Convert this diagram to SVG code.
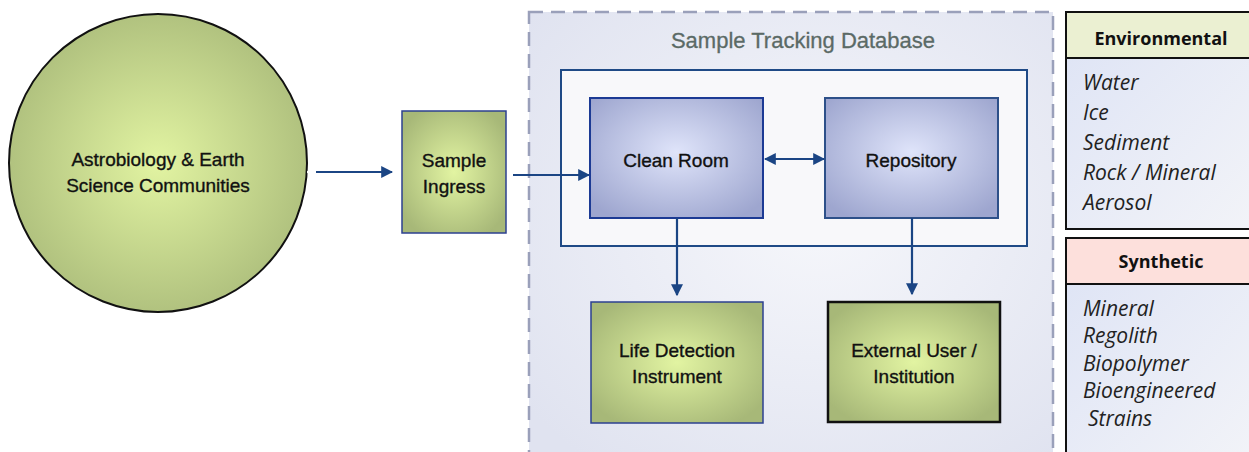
<svg xmlns="http://www.w3.org/2000/svg" width="1249" height="452" viewBox="0 0 1249 452">
<defs>
<radialGradient id="gGreen" cx="50%" cy="50%" r="60%">
<stop offset="0" stop-color="#e2f4a2"/>
<stop offset="1" stop-color="#a7b878"/>
</radialGradient>
<radialGradient id="gBlue" cx="50%" cy="45%" r="65%">
<stop offset="0" stop-color="#dfe4fa"/>
<stop offset="1" stop-color="#9ea6cf"/>
</radialGradient>
<radialGradient id="gLav" cx="55%" cy="45%" r="70%">
<stop offset="0" stop-color="#f6f7fb"/>
<stop offset="1" stop-color="#e0e3f0"/>
</radialGradient>
<linearGradient id="gPanel" x1="0" y1="0" x2="1" y2="1">
<stop offset="0" stop-color="#dde3f5"/>
<stop offset="1" stop-color="#f3f4f8"/>
</linearGradient>
<marker id="ah" viewBox="0 0 10 10" refX="9" refY="5" markerWidth="12" markerHeight="12" markerUnits="userSpaceOnUse" orient="auto-start-reverse">
<path d="M0,0 L10,5 L0,10 z" fill="#1b4584"/>
</marker>
</defs>
<style>
.lbl{font-family:"Liberation Sans",Arial,sans-serif;font-size:19px;fill:#111;stroke:#111;stroke-width:0.35;text-anchor:middle}
.con{stroke:#1b4584;stroke-width:2.2;fill:none}
.it{font-family:"Open Sans","Liberation Sans",sans-serif;font-style:italic;font-size:21px;fill:#222}
.hdr{font-family:"Open Sans","Liberation Sans",sans-serif;font-weight:bold;font-size:18px;fill:#111;text-anchor:middle}
</style>
<rect width="1249" height="452" fill="#ffffff"/>

<g id="database">
<rect x="529" y="12" width="524" height="450" fill="url(#gLav)" stroke="#9aa0ba" stroke-width="2.5" stroke-dasharray="14,8"/>
<text x="803" y="48" style="font-family:'Liberation Sans',Arial,sans-serif;font-size:22px;fill:#5b6a66;stroke:#5b6a66;stroke-width:0.3;text-anchor:middle">Sample Tracking Database</text>
<rect x="561" y="70" width="466" height="176" fill="#f8f8fa" stroke="#1f4a86" stroke-width="2"/>
</g>

<g id="communities">
<circle cx="158" cy="163" r="149" fill="url(#gGreen)" stroke="#111" stroke-width="2"/>
<text class="lbl" x="158" y="166">Astrobiology &amp; Earth</text>
<text class="lbl" x="158" y="192">Science Communities</text>
</g>

<g id="ingress">
<rect x="402" y="111" width="104" height="122" fill="url(#gGreen)" stroke="#2c4090" stroke-width="1.5"/>
<text class="lbl" x="454" y="167">Sample</text>
<text class="lbl" x="454" y="193">Ingress</text>
</g>

<g id="cleanroom">
<rect x="590" y="98" width="173" height="120" fill="url(#gBlue)" stroke="#1c3a94" stroke-width="2"/>
<text class="lbl" x="676" y="167">Clean Room</text>
</g>

<g id="repository">
<rect x="825" y="98" width="173" height="120" fill="url(#gBlue)" stroke="#2d5089" stroke-width="2"/>
<text class="lbl" x="911" y="167">Repository</text>
</g>

<g id="lifedetection">
<rect x="591" y="302" width="172" height="121" fill="url(#gGreen)" stroke="#2c4090" stroke-width="1.5"/>
<text class="lbl" x="677" y="357">Life Detection</text>
<text class="lbl" x="677" y="383">Instrument</text>
</g>

<g id="external">
<rect x="828" y="302" width="172" height="120" fill="url(#gGreen)" stroke="#111" stroke-width="2.5"/>
<text class="lbl" x="914" y="357">External User /</text>
<text class="lbl" x="914" y="383">Institution</text>
</g>

<g id="environmental">
<rect x="1066" y="12" width="200" height="217" fill="url(#gPanel)" stroke="#111" stroke-width="2"/>
<rect x="1066" y="12" width="200" height="46" fill="#ebf0d2" stroke="#111" stroke-width="2"/>
<text class="hdr" x="1161" y="45">Environmental</text>
<text class="it" x="1083" y="90">Water</text>
<text class="it" x="1083" y="120">Ice</text>
<text class="it" x="1083" y="150">Sediment</text>
<text class="it" x="1083" y="180">Rock / Mineral</text>
<text class="it" x="1083" y="210">Aerosol</text>
</g>

<g id="synthetic">
<rect x="1066" y="238" width="200" height="230" fill="url(#gPanel)" stroke="#111" stroke-width="2"/>
<rect x="1066" y="238" width="200" height="46" fill="#fde0dc" stroke="#111" stroke-width="2"/>
<text class="hdr" x="1161" y="268">Synthetic</text>
<text class="it" x="1083" y="316">Mineral</text>
<text class="it" x="1083" y="343">Regolith</text>
<text class="it" x="1083" y="371">Biopolymer</text>
<text class="it" x="1083" y="398">Bioengineered</text>
<text class="it" x="1088" y="426">Strains</text>
</g>

<g id="connectors">
<line x1="307" y1="172" x2="316" y2="172" stroke="#ffffff" stroke-width="2.2"/>
<line class="con" x1="316" y1="172" x2="392" y2="172" marker-end="url(#ah)"/>
<line class="con" x1="513" y1="175" x2="589" y2="175" marker-end="url(#ah)"/>
<line class="con" x1="765" y1="159" x2="824" y2="159" marker-start="url(#ah)" marker-end="url(#ah)"/>
<line class="con" x1="677" y1="218" x2="677" y2="295" marker-end="url(#ah)"/>
<line class="con" x1="912" y1="218" x2="912" y2="294" marker-end="url(#ah)"/>
</g>
</svg>
